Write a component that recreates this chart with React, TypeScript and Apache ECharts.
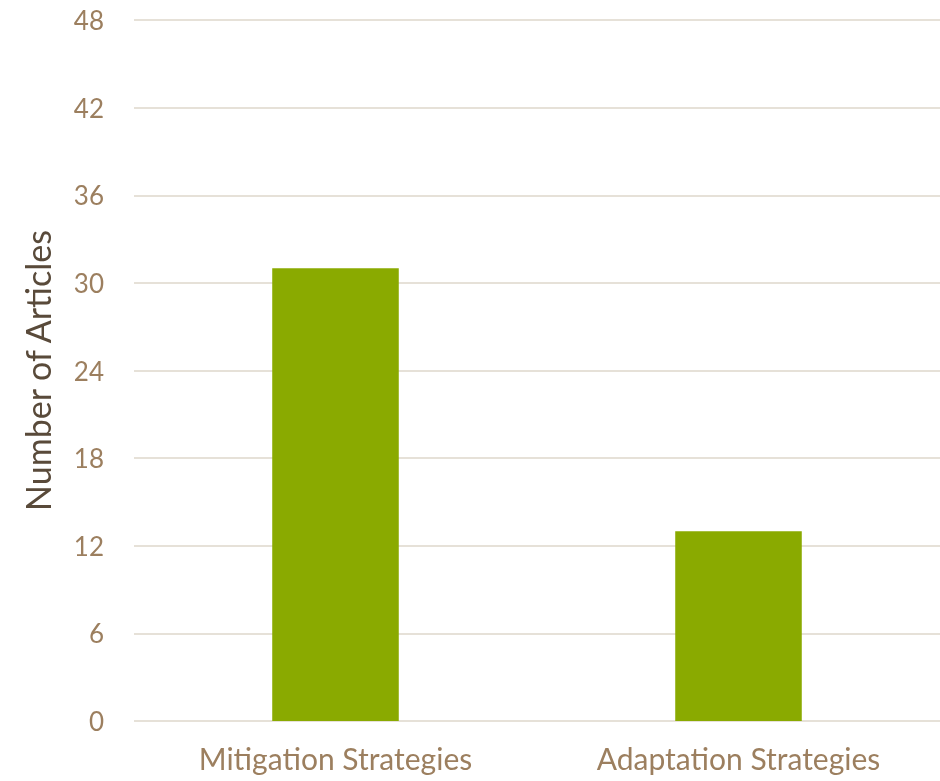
import React, { useEffect, useRef } from "react";
import * as echarts from "echarts";

const categories = ["Mitigation Strategies", "Adaptation Strategies"];
const articleCounts = [31, 13];
const yTicks = { min: 0, max: 48, interval: 6 };
const yAxisTitle = "Number of Articles";

export default function App() {
  const ref = useRef<HTMLDivElement>(null);
  useEffect(() => {
    if (!ref.current) return;
    const chart = echarts.init(ref.current, undefined, { renderer: "svg" });
    chart.setOption({
      animation: false,
      grid: { left: 134, right: -2.5, top: 20, bottom: 60, containLabel: false },
      xAxis: {
        type: "category",
        data: categories,
        axisLine: { show: false },
        axisTick: { show: false },
        axisLabel: {
          color: "#9c7f5f",
          fontFamily: "Lato",
          fontSize: 30,
          margin: 22,
        },
      },
      yAxis: {
        type: "value",
        min: yTicks.min,
        max: yTicks.max,
        interval: yTicks.interval,
        name: yAxisTitle,
        nameLocation: "middle",
        nameRotate: 90,
        nameGap: 80,
        nameTextStyle: { color: "#594a3a", fontFamily: "Lato", fontSize: 34 },
        axisLine: { show: false },
        axisTick: { show: false },
        axisLabel: {
          color: "#9c7f5f",
          fontFamily: "Lato",
          fontSize: 26,
          margin: 30,
        },
        splitLine: { lineStyle: { color: "#e6e1d8", width: 2 } },
      },
      series: [
        {
          type: "bar",
          data: articleCounts,
          barWidth: "31.4%",
          itemStyle: { color: "#8aaa00" },
        },
      ],
    });
    return () => chart.dispose();
  }, []);
  return (
    <div
      ref={ref}
      style={{ position: "fixed", left: 0, top: 0, width: 940, height: 781 }}
    />
  );
}
